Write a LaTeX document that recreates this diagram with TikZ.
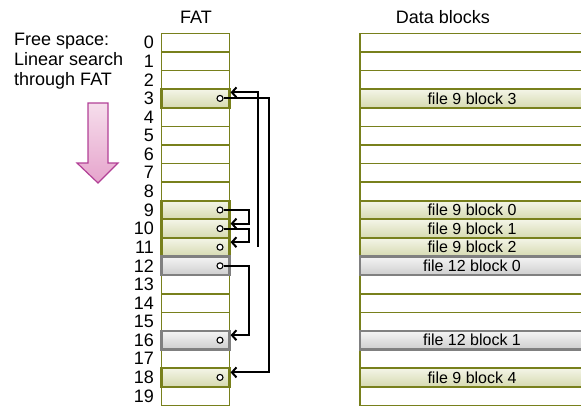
\documentclass[tikz,border=0pt]{standalone}
\usepackage{fontspec}
\setmainfont{Liberation Sans}
\usetikzlibrary{arrows.meta,shadows}

\definecolor{gridolive}{RGB}{120,128,28}
\definecolor{f9top}{RGB}{244,245,232}
\definecolor{f9bot}{RGB}{214,218,176}
\definecolor{f12top}{RGB}{244,244,244}
\definecolor{f12bot}{RGB}{206,206,206}
\definecolor{f12line}{RGB}{128,128,128}
\definecolor{pinktop}{RGB}{246,222,236}
\definecolor{pinkbot}{RGB}{230,164,204}
\definecolor{pinkline}{RGB}{178,64,150}

\tikzset{
  cell/.style={draw=gridolive, line width=1.6pt, inner sep=0pt, minimum height=18.6pt},
  fatcell/.style={cell, minimum width=68pt},
  datacell/.style={cell, minimum width=224pt, font=\fontsize{16}{16}\selectfont},
  filenine/.style={line width=2.2pt, top color=f9top, bottom color=f9bot,
    drop shadow={shadow xshift=-1.5pt, shadow yshift=-0.8pt, opacity=0.3}},
  filetwelve/.style={draw=f12line, line width=2.2pt, top color=f12top, bottom color=f12bot,
    drop shadow={shadow xshift=-1.5pt, shadow yshift=-0.8pt, opacity=0.3}},
  rownum/.style={anchor=east, inner sep=0pt, font=\fontsize{18}{18}\selectfont},
  title/.style={inner sep=0pt, font=\fontsize{18}{18}\selectfont},
  ptr/.style={circle, draw, fill=white, line width=1.1pt, minimum size=6pt, inner sep=0pt},
  link/.style={line width=2pt, -{Straight Barb[length=4.5pt, width=10pt, line width=2pt]}}
}

\begin{document}
\begin{tikzpicture}[x=1pt, y=-1pt]
\useasboundingbox (0,0) rectangle (581,405);
\clip (0,0) rectangle (581,405);

% titles
\node[title] (fattitle) at (196,17) {FAT};
\node[title] (datatitle) at (443,17) {Data blocks};

% explanation on the left
\node[anchor=north west, inner sep=0pt, align=left,
      font=\fontsize{18}{20}\selectfont] (freetext) at (14,33)
  {Free space:\\Linear search\\through FAT};

% downward search arrow
\draw[pinkline, line width=1.2pt, top color=pinktop, bottom color=pinkbot]
  (88,103) -- (108,103) -- (108,163) -- (118,163) -- (98,183)
  -- (77,163) -- (88,163) -- cycle;

% row numbers
\foreach \i in {0,...,19}
  \node[rownum] (n\i) at (154,{42.6+18.6*\i}) {\i};

% empty rows
\foreach \i in {0,1,2,4,5,6,7,8,13,14,15,17,19} {
  \node[fatcell] (fat\i) at (195.5,{42.6+18.6*\i}) {};
  \node[datacell] (data\i) at (472,{42.6+18.6*\i}) {};
}

% rows of file 9
\foreach \i/\b in {3/3,9/0,10/1,11/2,18/4} {
  \node[fatcell, filenine] (fat\i) at (195.5,{42.6+18.6*\i}) {};
  \node[datacell, filenine] (data\i) at (472,{42.6+18.6*\i}) {file 9 block \b};
}

% rows of file 12
\foreach \i/\b in {12/0,16/1} {
  \node[fatcell, filetwelve] (fat\i) at (195.5,{42.6+18.6*\i}) {};
  \node[datacell, filetwelve] (data\i) at (472,{42.6+18.6*\i}) {file 12 block \b};
}

% next-block pointers
\foreach \i in {3,9,10,11,12,16,18}
  \node[ptr] (d\i) at (220,{42.6+18.6*\i}) {};

% chain of file 9: 9 -> 10 -> 11 -> 3 -> 18
\draw[link] (d9.east) -- ++(25,0) |- ([yshift=5pt]fat10.east);
\draw[link] (d10.east) -- ++(25,0) |- ([yshift=5pt]fat11.east);
\coordinate (up11) at (257.5,246.5);
\draw[link] (up11) |- ([yshift=6pt]fat3.east);
\draw[link] (d3.east) -- ++(45,0) |- ([yshift=5pt]fat18.east);

% chain of file 12: 12 -> 16
\draw[link] (d12.east) -- ++(25,0) |- ([yshift=5pt]fat16.east);
\end{tikzpicture}
\end{document}
